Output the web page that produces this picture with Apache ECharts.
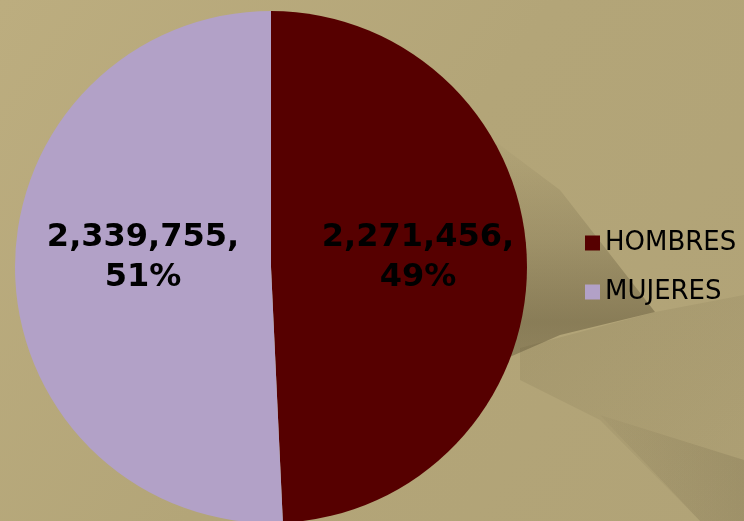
<!DOCTYPE html>
<html>
<head>
<meta charset="utf-8">
<script src="https://cdn.jsdelivr.net/npm/echarts@6/dist/echarts.min.js"></script>
<style>
html,body{margin:0;padding:0;}
#c{width:744px;height:521px;background:#b6a87b;}
</style>
</head>
<body>
<div id="c"></div>
<script>
const categories = ['HOMBRES', 'MUJERES'];
const values = [2271456, 2339755];
const colors = ['#560000', '#b2a1c7'];

const chart = echarts.init(document.getElementById('c'), null, {renderer: 'canvas'});
const option = {
  backgroundColor: {
    type: 'linear', x: 0, y: 0, x2: 1, y2: 1,
    colorStops: [
      {offset: 0, color: '#bcad7f'},
      {offset: 0.5, color: '#b3a578'},
      {offset: 1, color: '#b1a377'}
    ]
  },
  animation: false,
  graphic: [
    {
      type: 'polygon', z: -10, silent: true,
      shape: {points: [[480, 130], [560, 190], [655, 312], [560, 335], [480, 370]]},
      style: {
        fill: {
          type: 'linear', x: 0, y: 0, x2: 0, y2: 1,
          colorStops: [
            {offset: 0, color: 'rgba(70,60,35,0.0)'},
            {offset: 0.45, color: 'rgba(70,60,35,0.18)'},
            {offset: 0.8, color: 'rgba(70,60,35,0.38)'},
            {offset: 1, color: 'rgba(70,60,35,0.30)'}
          ]
        }
      }
    },
    {
      type: 'polygon', z: -10, silent: true,
      shape: {points: [[520, 348], [655, 312], [744, 295], [744, 521], [700, 521], [600, 420], [520, 380]]},
      style: {
        fill: {
          type: 'linear', x: 0, y: 0, x2: 1, y2: 1,
          colorStops: [
            {offset: 0, color: 'rgba(90,80,50,0.14)'},
            {offset: 1, color: 'rgba(90,80,50,0.04)'}
          ]
        }
      }
    },
    {
      type: 'polygon', z: -10, silent: true,
      shape: {points: [[600, 415], [744, 460], [744, 521], [700, 521]]},
      style: {
        fill: {
          type: 'linear', x: 0, y: 0, x2: 1, y2: 0,
          colorStops: [
            {offset: 0, color: 'rgba(80,70,45,0.04)'},
            {offset: 1, color: 'rgba(80,70,45,0.16)'}
          ]
        }
      }
    }
  ],
  legend: {
    orient: 'vertical',
    left: 580,
    top: 223,
    itemWidth: 15,
    itemHeight: 15,
    itemGap: 19,
    icon: 'rect',
    data: categories,
    textStyle: {
      fontFamily: 'DejaVu Sans',
      fontSize: 26,
      lineHeight: 30,
      color: '#000'
    }
  },
  series: [{
    type: 'pie',
    center: [271, 267],
    radius: 256,
    startAngle: 90,
    clockwise: true,
    avoidLabelOverlap: false,
    color: colors,
    itemStyle: {borderWidth: 0},
    emphasis: {disabled: true},
    label: {
      show: true,
      position: 'inside',
      fontFamily: 'DejaVu Sans',
      fontWeight: 'bold',
      fontSize: 32,
      lineHeight: 40,
      color: '#000',
      textBorderWidth: 0,
      formatter: function (p) {
        return p.value.toLocaleString('en-US') + ',\n' + Math.round(p.percent) + '%';
      }
    },
    labelLine: {show: false},
    labelLayout: function (p) {
      return p.dataIndex === 0 ? {dx: 16, dy: -6} : {dx: 3, dy: -12};
    },
    data: categories.map((n, i) => ({name: n, value: values[i]}))
  }]
};
chart.setOption(option);
</script>
</body>
</html>
